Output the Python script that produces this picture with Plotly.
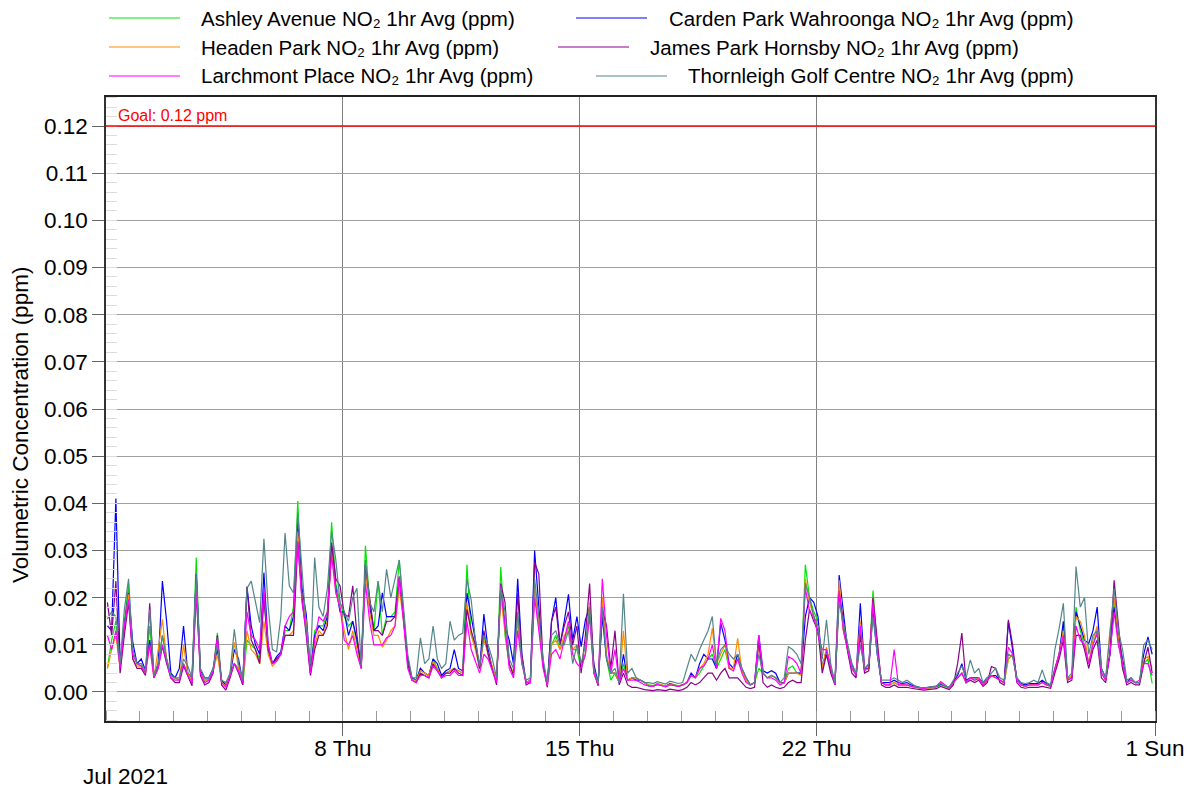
import plotly.graph_objects as go
import pandas as pd

# ---------------- data (3-hourly readings, ppm) ----------------
START = "2021-07-01 01:00"
N_POINTS = 248
STEP = "3h"
GOAL = 0.12
GOAL_LABEL = "Goal: 0.12 ppm"

SERIES_NAMES = [
    "Ashley Avenue NO₂ 1hr Avg (ppm)",
    "Carden Park Wahroonga NO₂ 1hr Avg (ppm)",
    "Headen Park NO₂ 1hr Avg (ppm)",
    "James Park Hornsby NO₂ 1hr Avg (ppm)",
    "Larchmont Place NO₂ 1hr Avg (ppm)",
    "Thornleigh Golf Centre NO₂ 1hr Avg (ppm)",
]

ashley = [
    0.005, 0.011, 0.015, 0.005, 0.015, 0.0228, 0.008, 0.006,
    0.0055, 0.004, 0.014, 0.0035, 0.0055, 0.012, 0.007, 0.0035,
    0.003, 0.0025, 0.006, 0.004, 0.0025, 0.0285, 0.004, 0.0025,
    0.0027, 0.0047, 0.0125, 0.0023, 0.0013, 0.0035, 0.006, 0.005,
    0.0015, 0.011, 0.010, 0.009, 0.007, 0.020, 0.009, 0.006,
    0.007, 0.008, 0.013, 0.013, 0.0182, 0.0405, 0.021, 0.014,
    0.004, 0.013, 0.014, 0.014, 0.017, 0.036, 0.023, 0.019,
    0.016, 0.014, 0.015, 0.010, 0.0055, 0.031, 0.019, 0.013,
    0.0235, 0.012, 0.016, 0.016, 0.017, 0.028, 0.017, 0.006,
    0.003, 0.0025, 0.005, 0.004, 0.0035, 0.007, 0.005, 0.0035,
    0.004, 0.0045, 0.005, 0.0045, 0.004, 0.027, 0.012, 0.010,
    0.005, 0.012, 0.008, 0.005, 0.0025, 0.0265, 0.012, 0.006,
    0.004, 0.016, 0.007, 0.002, 0.0025, 0.022, 0.014, 0.006,
    0.0015, 0.010, 0.012, 0.009, 0.011, 0.014, 0.009, 0.009,
    0.005, 0.008, 0.017, 0.004, 0.0015, 0.020, 0.007, 0.0025,
    0.004, 0.002, 0.006, 0.0025, 0.003, 0.003, 0.0025, 0.002,
    0.0015, 0.0013, 0.0018, 0.0015, 0.0012, 0.0018, 0.0015, 0.0013,
    0.0015, 0.002, 0.0035, 0.003, 0.004, 0.0055, 0.007, 0.008,
    0.005, 0.007, 0.009, 0.005, 0.005, 0.007, 0.0045, 0.0025,
    0.0015, 0.002, 0.005, 0.004, 0.003, 0.0035, 0.003, 0.002,
    0.002, 0.005, 0.0055, 0.004, 0.004, 0.027, 0.020, 0.017,
    0.015, 0.005, 0.009, 0.005, 0.0015, 0.021, 0.013, 0.009,
    0.005, 0.004, 0.013, 0.0045, 0.005, 0.0215, 0.009, 0.002,
    0.0015, 0.0015, 0.002, 0.0015, 0.0015, 0.0015, 0.0012, 0.001,
    0.0008, 0.0007, 0.0008, 0.0009, 0.001, 0.0015, 0.0012, 0.0008,
    0.002, 0.003, 0.004, 0.002, 0.003, 0.0025, 0.003, 0.0015,
    0.0025, 0.0035, 0.003, 0.0025, 0.002, 0.007, 0.008, 0.0025,
    0.0015, 0.0012, 0.0015, 0.0015, 0.0015, 0.002, 0.0015, 0.0012,
    0.005, 0.008, 0.014, 0.0025, 0.003, 0.018, 0.013, 0.010,
    0.006, 0.010, 0.013, 0.004, 0.0025, 0.008, 0.019, 0.011,
    0.005, 0.002, 0.0025, 0.002, 0.002, 0.006, 0.007, 0.0018,
]

carden = [
    0.014, 0.013, 0.041, 0.006, 0.014, 0.021, 0.0105, 0.006,
    0.007, 0.0045, 0.011, 0.0035, 0.006, 0.0235, 0.015, 0.004,
    0.003, 0.005, 0.014, 0.004, 0.003, 0.025, 0.0045, 0.003,
    0.003, 0.005, 0.009, 0.0025, 0.0015, 0.0035, 0.009, 0.007,
    0.002, 0.0223, 0.014, 0.010, 0.008, 0.0253, 0.010, 0.006,
    0.0075, 0.0085, 0.014, 0.013, 0.016, 0.036, 0.022, 0.0165,
    0.0045, 0.012, 0.014, 0.013, 0.016, 0.031, 0.022, 0.017,
    0.017, 0.012, 0.015, 0.011, 0.0055, 0.027, 0.018, 0.013,
    0.014, 0.021, 0.016, 0.016, 0.016, 0.024, 0.016, 0.007,
    0.003, 0.0025, 0.005, 0.004, 0.0035, 0.007, 0.006, 0.0035,
    0.0045, 0.005, 0.009, 0.005, 0.0045, 0.021, 0.016, 0.011,
    0.005, 0.0165, 0.009, 0.005, 0.0025, 0.022, 0.014, 0.011,
    0.006, 0.024, 0.008, 0.002, 0.0025, 0.030, 0.018, 0.006,
    0.0015, 0.015, 0.020, 0.010, 0.015, 0.0207, 0.011, 0.016,
    0.0096, 0.0153, 0.018, 0.006, 0.0018, 0.016, 0.007, 0.004,
    0.004, 0.002, 0.008, 0.0025, 0.003, 0.0025, 0.0025, 0.002,
    0.0013, 0.0012, 0.0016, 0.0014, 0.0012, 0.0017, 0.0014, 0.0012,
    0.0015, 0.002, 0.004, 0.003, 0.006, 0.008, 0.007, 0.007,
    0.005, 0.0146, 0.011, 0.006, 0.005, 0.008, 0.005, 0.003,
    0.0015, 0.002, 0.012, 0.0045, 0.004, 0.0045, 0.004, 0.002,
    0.002, 0.004, 0.004, 0.004, 0.004, 0.016, 0.020, 0.019,
    0.016, 0.005, 0.009, 0.005, 0.002, 0.0248, 0.017, 0.009,
    0.006, 0.0035, 0.0188, 0.005, 0.005, 0.017, 0.008, 0.002,
    0.002, 0.002, 0.0025, 0.002, 0.0018, 0.002, 0.0015, 0.0012,
    0.001, 0.0009, 0.001, 0.001, 0.0012, 0.0017, 0.0013, 0.001,
    0.0022, 0.0035, 0.006, 0.0025, 0.003, 0.003, 0.003, 0.002,
    0.003, 0.0035, 0.0035, 0.0025, 0.002, 0.0149, 0.009, 0.003,
    0.0018, 0.0015, 0.0018, 0.0018, 0.0018, 0.0025, 0.0018, 0.0015,
    0.005, 0.008, 0.015, 0.003, 0.003, 0.017, 0.014, 0.011,
    0.0103, 0.013, 0.018, 0.005, 0.003, 0.008, 0.018, 0.0117,
    0.007, 0.002, 0.003, 0.002, 0.002, 0.008, 0.0117, 0.008,
]

headen = [
    0.005, 0.009, 0.012, 0.005, 0.013, 0.0207, 0.007, 0.0055,
    0.0055, 0.004, 0.010, 0.003, 0.009, 0.0154, 0.007, 0.003,
    0.003, 0.0025, 0.010, 0.004, 0.0025, 0.023, 0.004, 0.0025,
    0.0025, 0.0045, 0.008, 0.002, 0.0013, 0.004, 0.0105, 0.005,
    0.002, 0.013, 0.009, 0.008, 0.006, 0.015, 0.008, 0.0055,
    0.0065, 0.008, 0.012, 0.012, 0.013, 0.034, 0.020, 0.015,
    0.004, 0.010, 0.013, 0.012, 0.015, 0.030, 0.021, 0.018,
    0.013, 0.009, 0.013, 0.009, 0.005, 0.026, 0.017, 0.012,
    0.012, 0.0095, 0.011, 0.013, 0.014, 0.022, 0.015, 0.006,
    0.0025, 0.0025, 0.0045, 0.004, 0.0035, 0.0065, 0.005, 0.003,
    0.004, 0.0045, 0.005, 0.0045, 0.004, 0.019, 0.012, 0.009,
    0.005, 0.011, 0.008, 0.005, 0.0025, 0.020, 0.013, 0.006,
    0.004, 0.015, 0.007, 0.002, 0.0025, 0.022, 0.015, 0.0055,
    0.002, 0.010, 0.011, 0.009, 0.012, 0.013, 0.009, 0.010,
    0.006, 0.008, 0.019, 0.004, 0.0015, 0.020, 0.008, 0.004,
    0.004, 0.002, 0.013, 0.0025, 0.003, 0.003, 0.0025, 0.002,
    0.0014, 0.0012, 0.0017, 0.0015, 0.0012, 0.0016, 0.0014, 0.0013,
    0.0015, 0.002, 0.0035, 0.003, 0.005, 0.006, 0.008, 0.0135,
    0.006, 0.008, 0.010, 0.005, 0.005, 0.0114, 0.0045, 0.0025,
    0.0015, 0.002, 0.010, 0.004, 0.003, 0.0035, 0.003, 0.002,
    0.0018, 0.004, 0.004, 0.004, 0.0035, 0.024, 0.019, 0.016,
    0.014, 0.005, 0.0095, 0.005, 0.0015, 0.0237, 0.013, 0.009,
    0.005, 0.004, 0.015, 0.0045, 0.005, 0.020, 0.010, 0.002,
    0.0015, 0.0015, 0.002, 0.0015, 0.0015, 0.0015, 0.0012, 0.001,
    0.0008, 0.0007, 0.0008, 0.0009, 0.0012, 0.002, 0.0015, 0.0008,
    0.002, 0.003, 0.004, 0.002, 0.003, 0.0025, 0.003, 0.0015,
    0.0025, 0.0035, 0.003, 0.0025, 0.002, 0.007, 0.008, 0.0025,
    0.0015, 0.0012, 0.0015, 0.0015, 0.0015, 0.002, 0.0015, 0.0012,
    0.0045, 0.008, 0.013, 0.0025, 0.0035, 0.016, 0.015, 0.012,
    0.006, 0.011, 0.014, 0.004, 0.0025, 0.013, 0.020, 0.012,
    0.006, 0.002, 0.0025, 0.002, 0.002, 0.007, 0.0075, 0.005,
]

james = [
    0.019, 0.012, 0.0235, 0.004, 0.012, 0.019, 0.007, 0.005,
    0.005, 0.0035, 0.0188, 0.003, 0.005, 0.0097, 0.006, 0.003,
    0.002, 0.002, 0.0055, 0.0035, 0.0013, 0.021, 0.0035, 0.0015,
    0.002, 0.004, 0.012, 0.0015, 0.0004, 0.003, 0.006, 0.004,
    0.0015, 0.0223, 0.011, 0.009, 0.006, 0.020, 0.009, 0.006,
    0.007, 0.008, 0.012, 0.012, 0.012, 0.0317, 0.020, 0.012,
    0.0035, 0.009, 0.012, 0.012, 0.014, 0.0317, 0.024, 0.0225,
    0.0165, 0.016, 0.0225, 0.012, 0.005, 0.027, 0.020, 0.013,
    0.013, 0.012, 0.015, 0.015, 0.016, 0.0245, 0.016, 0.006,
    0.0025, 0.002, 0.004, 0.0035, 0.003, 0.006, 0.0045, 0.003,
    0.004, 0.004, 0.005, 0.004, 0.0035, 0.0175, 0.013, 0.010,
    0.005, 0.013, 0.008, 0.005, 0.0015, 0.023, 0.019, 0.006,
    0.0035, 0.021, 0.007, 0.0015, 0.002, 0.0275, 0.025, 0.006,
    0.001, 0.015, 0.018, 0.010, 0.014, 0.017, 0.010, 0.014,
    0.004, 0.012, 0.023, 0.005, 0.0013, 0.0175, 0.014, 0.005,
    0.013, 0.0015, 0.004, 0.0015, 0.001, 0.001, 0.0007, 0.0005,
    0.0004, 0.0003, 0.0005, 0.0004, 0.0003, 0.0006, 0.0004, 0.0003,
    0.0005, 0.001, 0.002, 0.0015, 0.002, 0.003, 0.004, 0.004,
    0.0025, 0.004, 0.005, 0.003, 0.003, 0.003, 0.002, 0.001,
    0.0007, 0.001, 0.011, 0.002, 0.001, 0.0015, 0.001, 0.0007,
    0.001, 0.002, 0.0025, 0.002, 0.002, 0.011, 0.0175, 0.015,
    0.013, 0.004, 0.008, 0.004, 0.0015, 0.0209, 0.015, 0.0085,
    0.004, 0.003, 0.012, 0.004, 0.0045, 0.020, 0.011, 0.0015,
    0.001, 0.001, 0.0015, 0.001, 0.001, 0.001, 0.0008, 0.0007,
    0.0005, 0.0004, 0.0005, 0.0006, 0.0007, 0.0012, 0.0008, 0.0005,
    0.0015, 0.006, 0.0125, 0.002, 0.0025, 0.002, 0.0025, 0.0012,
    0.002, 0.0054, 0.005, 0.002, 0.0015, 0.0153, 0.010, 0.002,
    0.001, 0.0008, 0.001, 0.001, 0.001, 0.0012, 0.001, 0.0008,
    0.004, 0.007, 0.011, 0.002, 0.0025, 0.012, 0.012, 0.009,
    0.005, 0.009, 0.011, 0.003, 0.002, 0.008, 0.0237, 0.014,
    0.005, 0.0015, 0.002, 0.0015, 0.0015, 0.006, 0.0095, 0.004,
]

larchmont = [
    0.012, 0.009, 0.013, 0.005, 0.014, 0.0196, 0.008, 0.006,
    0.0055, 0.004, 0.010, 0.003, 0.005, 0.010, 0.0065, 0.003,
    0.0025, 0.0025, 0.006, 0.0035, 0.002, 0.0215, 0.004, 0.002,
    0.0025, 0.0045, 0.0115, 0.002, 0.001, 0.0035, 0.006, 0.0045,
    0.002, 0.017, 0.012, 0.011, 0.009, 0.0218, 0.010, 0.006,
    0.0065, 0.008, 0.014, 0.016, 0.017, 0.032, 0.019, 0.013,
    0.004, 0.011, 0.016, 0.015, 0.017, 0.029, 0.021, 0.018,
    0.011, 0.010, 0.012, 0.008, 0.005, 0.023, 0.015, 0.010,
    0.010, 0.010, 0.0115, 0.012, 0.014, 0.0245, 0.015, 0.005,
    0.0025, 0.002, 0.0035, 0.0035, 0.003, 0.0055, 0.0045, 0.003,
    0.0035, 0.0035, 0.0045, 0.0035, 0.0035, 0.015, 0.009, 0.0065,
    0.004, 0.008, 0.007, 0.0045, 0.002, 0.0225, 0.014, 0.005,
    0.003, 0.013, 0.006, 0.002, 0.002, 0.020, 0.013, 0.005,
    0.0013, 0.008, 0.009, 0.007, 0.011, 0.015, 0.008, 0.006,
    0.005, 0.008, 0.016, 0.004, 0.0015, 0.024, 0.012, 0.004,
    0.009, 0.002, 0.005, 0.0025, 0.0025, 0.0025, 0.002, 0.0015,
    0.0013, 0.0012, 0.0016, 0.0014, 0.0011, 0.0015, 0.0013, 0.0012,
    0.0015, 0.002, 0.0035, 0.003, 0.005, 0.0055, 0.007, 0.010,
    0.005, 0.0156, 0.013, 0.005, 0.0045, 0.007, 0.004, 0.002,
    0.0015, 0.002, 0.012, 0.004, 0.003, 0.003, 0.0025, 0.0015,
    0.002, 0.0075, 0.007, 0.006, 0.004, 0.022, 0.017, 0.016,
    0.012, 0.009, 0.009, 0.005, 0.0015, 0.0215, 0.013, 0.009,
    0.005, 0.0035, 0.014, 0.0045, 0.006, 0.019, 0.009, 0.002,
    0.0015, 0.0015, 0.009, 0.0015, 0.0015, 0.0015, 0.0012, 0.001,
    0.0008, 0.0007, 0.0009, 0.001, 0.0012, 0.0022, 0.0015, 0.0008,
    0.002, 0.003, 0.004, 0.002, 0.003, 0.0025, 0.0028, 0.0015,
    0.0025, 0.0035, 0.003, 0.0025, 0.002, 0.0095, 0.008, 0.0025,
    0.0015, 0.0012, 0.0015, 0.0015, 0.0015, 0.002, 0.0015, 0.0012,
    0.005, 0.008, 0.012, 0.0025, 0.003, 0.014, 0.011, 0.010,
    0.006, 0.010, 0.0124, 0.004, 0.0025, 0.008, 0.017, 0.010,
    0.006, 0.002, 0.0025, 0.002, 0.0025, 0.006, 0.006, 0.0035,
]

thornleigh = [
    0.0155, 0.017, 0.016, 0.006, 0.0175, 0.024, 0.009, 0.006,
    0.006, 0.0045, 0.0175, 0.0035, 0.006, 0.012, 0.007, 0.0035,
    0.003, 0.003, 0.007, 0.0055, 0.003, 0.025, 0.005, 0.003,
    0.003, 0.005, 0.010, 0.0025, 0.002, 0.004, 0.0133, 0.006,
    0.0025, 0.022, 0.0235, 0.019, 0.0147, 0.0325, 0.0182, 0.009,
    0.0085, 0.016, 0.0337, 0.0225, 0.021, 0.038, 0.025, 0.014,
    0.006, 0.0285, 0.018, 0.016, 0.022, 0.034, 0.028, 0.019,
    0.017, 0.015, 0.020, 0.022, 0.0055, 0.028, 0.019, 0.017,
    0.0235, 0.017, 0.026, 0.020, 0.024, 0.028, 0.018, 0.008,
    0.003, 0.003, 0.0115, 0.006, 0.007, 0.014, 0.007, 0.005,
    0.006, 0.015, 0.011, 0.012, 0.0125, 0.024, 0.0195, 0.011,
    0.0055, 0.012, 0.010, 0.007, 0.003, 0.022, 0.017, 0.007,
    0.005, 0.017, 0.006, 0.0025, 0.003, 0.024, 0.016, 0.007,
    0.002, 0.012, 0.013, 0.010, 0.010, 0.013, 0.006, 0.010,
    0.006, 0.010, 0.018, 0.005, 0.0018, 0.018, 0.007, 0.004,
    0.005, 0.002, 0.0208, 0.004, 0.005, 0.003, 0.0025, 0.002,
    0.002, 0.0018, 0.0022, 0.002, 0.0017, 0.0023, 0.002, 0.0018,
    0.002, 0.005, 0.008, 0.0065, 0.009, 0.011, 0.013, 0.016,
    0.006, 0.009, 0.010, 0.008, 0.007, 0.008, 0.005, 0.003,
    0.0015, 0.002, 0.008, 0.004, 0.003, 0.0035, 0.003, 0.002,
    0.003, 0.0096, 0.009, 0.008, 0.006, 0.023, 0.020, 0.016,
    0.014, 0.007, 0.0153, 0.006, 0.002, 0.019, 0.0145, 0.010,
    0.006, 0.004, 0.010, 0.005, 0.006, 0.016, 0.008, 0.0025,
    0.0025, 0.0025, 0.003, 0.0025, 0.002, 0.0025, 0.0018, 0.0012,
    0.001, 0.0009, 0.001, 0.0012, 0.0013, 0.0018, 0.0013, 0.001,
    0.0025, 0.004, 0.0055, 0.003, 0.0068, 0.004, 0.005, 0.002,
    0.003, 0.004, 0.005, 0.003, 0.0025, 0.008, 0.0075, 0.003,
    0.002, 0.0018, 0.002, 0.0025, 0.002, 0.0047, 0.002, 0.0015,
    0.009, 0.0135, 0.0188, 0.003, 0.004, 0.0266, 0.018, 0.020,
    0.008, 0.012, 0.013, 0.005, 0.003, 0.012, 0.022, 0.013,
    0.009, 0.0025, 0.003, 0.002, 0.002, 0.010, 0.011, 0.009,
]

SERIES_VALUES = [ashley, carden, headen, james, larchmont, thornleigh]
COLORS = ["#00e600", "#0000ff", "#ff8c00", "#8b008b", "#ff00ff", "#53868b"]

X_RANGE = ["2021-07-01", "2021-08-01"]
X_TICKS = ["2021-07-08", "2021-07-15", "2021-07-22", "2021-08-01"]
X_TICK_TEXT = ["8 Thu", "15 Thu", "22 Thu", "1 Sun"]
Y_TICKS = [i / 100 for i in range(0, 13)]
Y_RANGE = [-0.00615, 0.12615]

# ---------------- figure ----------------
W, H = 1195, 794
L, R, T, B = 106, 1155, 97, 721
FONT = "Liberation Sans, Arial, Helvetica, sans-serif"

times = pd.date_range(START, periods=N_POINTS, freq=STEP)

fig = go.Figure()
for name, vals, col in zip(SERIES_NAMES, SERIES_VALUES, COLORS):
    fig.add_trace(go.Scatter(x=times, y=vals, mode="lines", name=name,
                             line=dict(color=col, width=1.2), showlegend=False))

def px_x(px):
    return (px - L) / (R - L)

def px_y(py):
    return (B - py) / (B - T)

# goal line
fig.add_shape(type="line", xref="paper", x0=0, x1=1, yref="y", y0=GOAL, y1=GOAL,
              line=dict(color="#ff0000", width=1.3), layer="above")

ann = [
    dict(text=GOAL_LABEL, xref="paper", yref="y", x=px_x(116), y=GOAL,
         xanchor="left", yanchor="bottom", showarrow=False,
         font=dict(color="#ff0000", size=16, family=FONT)),
    dict(text="Jul 2021", xref="paper", yref="paper", x=px_x(125), y=px_y(776),
         xanchor="center", yanchor="middle", showarrow=False,
         font=dict(color="#000", size=22.5, family=FONT)),
    dict(text="Volumetric Concentration (ppm)", xref="paper", yref="paper",
         x=px_x(20), y=px_y(425), xanchor="center", yanchor="middle",
         textangle=-90, showarrow=False,
         font=dict(color="#000", size=22.5, family=FONT)),
]

# manual legend
legend_layout = [
    (0, 109, 180, 199, 18),
    (1, 576, 647, 667, 18),
    (2, 109, 180, 199, 47),
    (3, 558, 629, 648, 47),
    (4, 109, 180, 199, 76),
    (5, 596, 667, 686, 76),
]
for idx, lx0, lx1, tx, ty in legend_layout:
    fig.add_shape(type="line", xref="paper", yref="paper",
                  x0=px_x(lx0), x1=px_x(lx1), y0=px_y(ty), y1=px_y(ty),
                  line=dict(color=COLORS[idx], width=1.2))
    ann.append(dict(text=SERIES_NAMES[idx], xref="paper", yref="paper",
                    x=px_x(tx), y=px_y(ty), xanchor="left", yanchor="middle",
                    showarrow=False, font=dict(color="#000", size=20.5, family=FONT)))

fig.update_layout(
    width=W, height=H,
    margin=dict(l=L, r=W - R, t=T, b=H - B, autoexpand=False),
    paper_bgcolor="white", plot_bgcolor="white",
    font=dict(family=FONT, size=22.5, color="#000"),
    showlegend=False,
    annotations=ann,
    xaxis=dict(
        type="date", range=X_RANGE, tickmode="array", tickvals=X_TICKS,
        ticktext=X_TICK_TEXT, ticks="outside", ticklen=13, tickcolor="#666",
        tickwidth=1, showgrid=True, gridcolor="#808080", gridwidth=1,
        showline=True, linecolor="#222", linewidth=1.5, mirror=True,
        zeroline=False, tickfont=dict(size=22.5), ticklabelstandoff=-7,
        minor=dict(dtick=86400000, tick0="2021-07-01", ticks="inside",
                   ticklen=10, tickcolor="#999", showgrid=False),
    ),
    yaxis=dict(
        range=Y_RANGE, tickmode="array", tickvals=Y_TICKS, tickformat=".2f",
        ticks="outside", ticklen=12, tickcolor="#666", tickwidth=1,
        showgrid=True, gridcolor="#a0a0a0", gridwidth=1,
        showline=True, linecolor="#333", linewidth=1.5, mirror=True,
        zeroline=False, tickfont=dict(size=22.5),
        minor=dict(dtick=0.002, tick0=0, ticks="inside", ticklen=11,
                   tickcolor="#dcdcdc", showgrid=False),
    ),
)

fig.write_html(
    "out.html",
    config={"displayModeBar": False},
    post_script="document.body.style.margin='0';document.body.style.padding='0';",
)
